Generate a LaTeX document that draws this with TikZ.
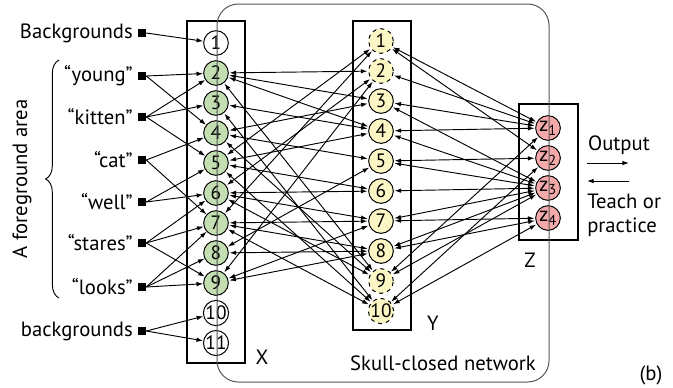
\documentclass[tikz,border=0pt]{standalone}
\usepackage{fontspec}
\setmainfont{PT Sans}
\usetikzlibrary{arrows.meta,positioning,calc,decorations.pathreplacing}
\definecolor{xgreen}{RGB}{195,223,178}
\definecolor{yyellow}{RGB}{252,246,196}
\definecolor{zpink}{RGB}{244,170,170}
\definecolor{skullgray}{RGB}{85,85,85}
\tikzset{
  neu/.style={circle, draw, line width=0.75pt, minimum size=18.5pt, inner sep=0pt,
              font=\fontsize{14.5}{14.5}\selectfont},
  xneu/.style={neu, fill=xgreen},
  yneu/.style={neu, fill=yyellow},
  ydash/.style={yneu, dashed},
  zneu/.style={neu, fill=zpink, font=\fontsize{15.5}{15.5}\selectfont},
  sens/.style={fill=black, minimum size=6pt, inner sep=0pt},
  lbl/.style={font=\fontsize{15.5}{18}\selectfont, inner sep=0pt},
  feed/.style={-{Latex[length=5pt,width=3.4pt]}, line width=0.7pt},
  link/.style={{Latex[length=5pt,width=3.4pt]}-{Latex[length=5pt,width=3.4pt]},
               line width=0.7pt, shorten <=0.5pt, shorten >=0.5pt},
  area/.style={draw, line width=0.9pt},
}
\begin{document}
\begin{tikzpicture}[x=0.75pt, y=-0.75pt]
  \useasboundingbox (0,0) rectangle (673,387);
  % layer boxes
  \draw[area] (187,21) rectangle (245,363);
  \draw[area] (353,21) rectangle (411,330);
  \draw[area] (519,104) rectangle (578,240);
  % neurons
  \foreach \i/\s in {1/neu,2/xneu,3/xneu,4/xneu,5/xneu,6/xneu,7/xneu,8/xneu,9/xneu,10/neu,11/neu}
    \node[\s] (x\i) at (216,{43+30*(\i-1)}) {\i};
  \foreach \i/\s in {1/ydash,2/ydash,3/yneu,4/yneu,5/yneu,6/yneu,7/yneu,8/yneu,9/ydash,10/ydash}
    \node[\s] (y\i) at (381,{41+30*(\i-1)}) {\i};
  \foreach \i in {1,...,4}
    \node[zneu] (z\i) at (548,{128+30*(\i-1)}) {z\textsubscript{\i}};
  % sensors and their words
  \foreach \i/\yy/\t in {1/33/Backgrounds,2/76/“young”,3/117/“kitten”,4/160/“cat”,
                         5/202/“well”,6/243/“stares”,7/287/“looks”,8/331/backgrounds}{
    \node[sens] (s\i) at (142,\yy) {};
    \node[lbl, anchor=east] (w\i) at (133,\yy) {\t};
  }
  \foreach \a/\b in {1/1,2/2,2/4,3/2,3/3,3/5,4/4,4/7,5/5,5/6,6/6,6/7,6/9,7/7,7/8,7/9,8/10,8/11}
    \draw[feed] (s\a.east) -- (x\b);
  % X <-> Y
  \foreach \a/\b in {2/2,2/3,2/4,2/9,3/4,3/10,4/3,4/5,4/9,5/1,5/4,5/6,5/10,
                     6/2,6/6,6/7,6/9,7/1,7/7,7/8,7/10,8/5,8/8,9/2,9/7,9/8}
    \draw[link] (x\a) -- (y\b);
  % Y <-> Z
  \foreach \a/\b in {1/1,1/2,2/1,3/1,3/3,4/1,4/3,5/2,5/3,6/3,7/3,7/4,8/3,8/4,9/1,9/3,10/2,10/4}
    \draw[link] (y\a) -- (z\b);
  % brace and side labels
  \draw[decorate, decoration={brace, amplitude=10pt}, line width=0.7pt] (59,298) -- (59,60);
  \node[lbl, rotate=90] (fg) at (22,179) {A foreground area};
  \node[lbl] (lx) at (262,357) {X};
  \node[lbl] (ly) at (433,323) {Y};
  \node[lbl] (lz) at (530,260) {Z};
  \node[lbl] (skull) at (443,363) {Skull-closed network};
  \node[lbl] (out) at (619,145) {Output};
  \node[lbl, anchor=north west, align=left] (teach) at (587,194) {Teach or\\practice};
  \node[lbl] (tag) at (651,375) {(b)};
  \coordinate (o1) at (587,163);
  \coordinate (o2) at (629,163);
  \coordinate (t1) at (629,181);
  \coordinate (t2) at (587,181);
  \draw[feed] (o1) -- (o2);
  \draw[feed] (t1) -- (t2);
  % skull
  \draw[skullgray, line width=0.75pt, rounded corners=16pt] (217,4) rectangle (549,382);
\end{tikzpicture}
\end{document}
